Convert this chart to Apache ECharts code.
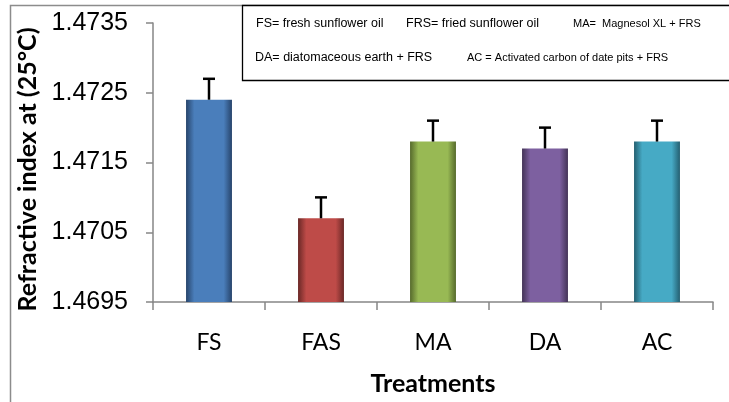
<!DOCTYPE html>
<html>
<head>
<meta charset="utf-8">
<script src="https://cdn.jsdelivr.net/npm/echarts@6/dist/echarts.min.js"></script>
<style>
html,body{margin:0;padding:0;background:#fff;}
#chart{width:729px;height:402px;}
</style>
</head>
<body>
<div id="chart"></div>
<script>
const categories = ['FS', 'FAS', 'MA', 'DA', 'AC'];
const values = [1.4724, 1.4707, 1.4718, 1.4717, 1.4718];
const errors = [0.0003, 0.0003, 0.0003, 0.0003, 0.0003];
const yTicks = [1.4695, 1.4705, 1.4715, 1.4725, 1.4735];
const barColors = [
  ['#4a7ebb', '#27446b'],
  ['#be4b48', '#6a2826'],
  ['#98b954', '#566a2c'],
  ['#7d60a0', '#433356'],
  ['#46aac5', '#245f70']
];
const legendLine1 = ['FS= fresh sunflower oil', 'FRS= fried sunflower oil', 'MA=  Magnesol XL + FRS'];
const legendLine2 = ['DA= diatomaceous earth + FRS', 'AC = Activated carbon of date pits + FRS'];

function grad(c) {
  return new echarts.graphic.LinearGradient(0, 0, 1, 0, [
    {offset: 0, color: c[1]},
    {offset: 0.18, color: c[0]},
    {offset: 0.82, color: c[0]},
    {offset: 1, color: c[1]}
  ]);
}

const chart = echarts.init(document.getElementById('chart'), null, {renderer: 'canvas'});
const legendX1 = [256, 406, 573];
const legendF1 = [12.5, 12.5, 11];
const legendX2 = [255, 467];
const legendF2 = [12.5, 11];
const graphics = [
  {type: 'rect', z: 100, shape: {x: 10.5, y: 5.5, width: 900, height: 600}, style: {fill: 'none', stroke: '#8c8c8c', lineWidth: 1.5}},
  {type: 'rect', z: 101, shape: {x: 242.5, y: 5.5, width: 600, height: 75}, style: {fill: '#fff', stroke: '#000', lineWidth: 1.3}}
];
legendLine1.forEach((t, i) => graphics.push({type: 'text', z: 102, x: legendX1[i], y: 24, style: {text: t, font: legendF1[i] + 'px "Liberation Sans"', fill: '#000', verticalAlign: 'middle'}}));
legendLine2.forEach((t, i) => graphics.push({type: 'text', z: 102, x: legendX2[i], y: 58, style: {text: t, font: legendF2[i] + 'px "Liberation Sans"', fill: '#000', verticalAlign: 'middle'}}));

chart.setOption({
  animation: false,
  grid: {left: 153, right: 16, top: 23, bottom: 100, containLabel: false},
  xAxis: {
    type: 'category',
    data: categories,
    boundaryGap: true,
    name: 'Treatments',
    nameLocation: 'middle',
    nameGap: 69,
    nameTextStyle: {fontFamily: 'Lato', fontWeight: 'bold', fontSize: 25, color: '#000'},
    axisLine: {lineStyle: {color: '#868686', width: 1.5}},
    axisTick: {show: true, alignWithLabel: false, length: 8, lineStyle: {color: '#868686', width: 1.5}},
    axisLabel: {fontFamily: 'Lato', fontSize: 23, color: '#000', margin: 29}
  },
  yAxis: {
    type: 'value',
    min: yTicks[0],
    max: yTicks[yTicks.length - 1],
    interval: yTicks[1] - yTicks[0],
    name: 'Refractive index at (25°C)',
    nameLocation: 'middle',
    nameGap: 113,
    nameTextStyle: {fontFamily: 'Lato', fontWeight: 'bold', fontSize: 25, color: '#000', padding: [0, 14, 0, 0]},
    splitLine: {show: false},
    axisLine: {show: true, lineStyle: {color: '#868686', width: 1.5}},
    axisTick: {show: true, length: 7, lineStyle: {color: '#868686', width: 1.5}},
    axisLabel: {fontFamily: 'Liberation Sans', fontSize: 25, color: '#000', margin: 25,
      formatter: v => v.toFixed(4)}
  },
  graphic: graphics,
  series: [
    {
      type: 'bar',
      barWidth: '41%',
      data: values.map((v, i) => ({value: v, itemStyle: {color: grad(barColors[i])}})),
    },
    {
      type: 'custom',
      data: categories.map((c, i) => [i, values[i], errors[i]]),
      renderItem: function (params, api) {
        const base = api.coord([api.value(0), api.value(1)]);
        const top = api.coord([api.value(0), api.value(1) + api.value(2)]);
        return {
          type: 'group',
          children: [
            {type: 'line', shape: {x1: base[0], y1: base[1], x2: base[0], y2: top[1]}, style: {stroke: '#000', lineWidth: 2.5}},
            {type: 'line', shape: {x1: base[0] - 6, y1: top[1], x2: base[0] + 6, y2: top[1]}, style: {stroke: '#000', lineWidth: 2.5}}
          ]
        };
      },
      z: 5
    }
  ]
});
</script>
</body>
</html>
